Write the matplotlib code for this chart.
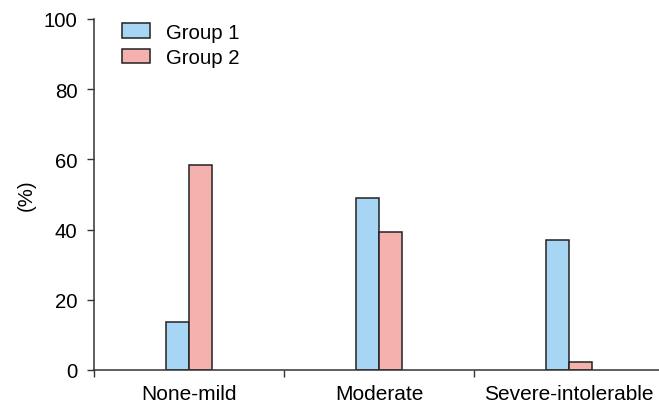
import matplotlib
matplotlib.use("Agg")
import matplotlib.pyplot as plt
import numpy as np

categories = ["None-mild", "Moderate", "Severe-intolerable"]
group1 = [13.6, 48.9, 37.0]
group2 = [58.3, 39.4, 2.4]
series_names = ["Group 1", "Group 2"]
yticks = [0, 20, 40, 60, 80, 100]

plt.rcParams['font.family'] = ['Liberation Sans', 'DejaVu Sans']
FS = 14.7
plt.rcParams['font.size'] = FS

fig = plt.figure(figsize=(6.59, 4.06), dpi=100)
W, H = 659, 406
L, R, T, B = 94, 659, 20, 371
ax = fig.add_axes([L / W, 1 - B / H, (R - L) / W, (B - T) / H])

x = np.arange(len(categories))
w = 0.1195
c1, c2 = "#A6D6F3", "#F4B1AD"
ec = "#222222"
ax.bar(x - w / 2, group1, width=w, color=c1, edgecolor=ec, linewidth=1.1, label=series_names[0])
ax.bar(x + w / 2, group2, width=w, color=c2, edgecolor=ec, linewidth=1.1, label=series_names[1])

ax.set_xlim(-0.5, -0.5 + (R - L) / 190)
ax.set_ylim(0, 100)
ax.set_yticks(yticks)
ax.set_xticks(x)
ax.set_xticklabels(categories, fontsize=15)
ax.tick_params(axis='x', which='major', length=0, pad=10)
ax.set_xticks([-0.5, 0.5, 1.5], minor=True)
ax.tick_params(axis='x', which='minor', length=5, width=1, color="#333333", direction='out')
ax.tick_params(axis='y', length=5, width=1, color="#333333", pad=7)
for s in ['top', 'right']:
    ax.spines[s].set_visible(False)
for s in ['left', 'bottom']:
    ax.spines[s].set_color("#333333")
    ax.spines[s].set_linewidth(1.1)
ax.set_ylabel("(%)", labelpad=6)

ax.legend(loc='upper left', bbox_to_anchor=((121.7 - L) / (R - L), 1.0 - 4 / (B - T)), frameon=False,
          borderpad=0, borderaxespad=0, handlelength=1.39, handleheight=0.75,
          handletextpad=0.77, labelspacing=0.3)

fig.savefig("out.png", dpi=100)
